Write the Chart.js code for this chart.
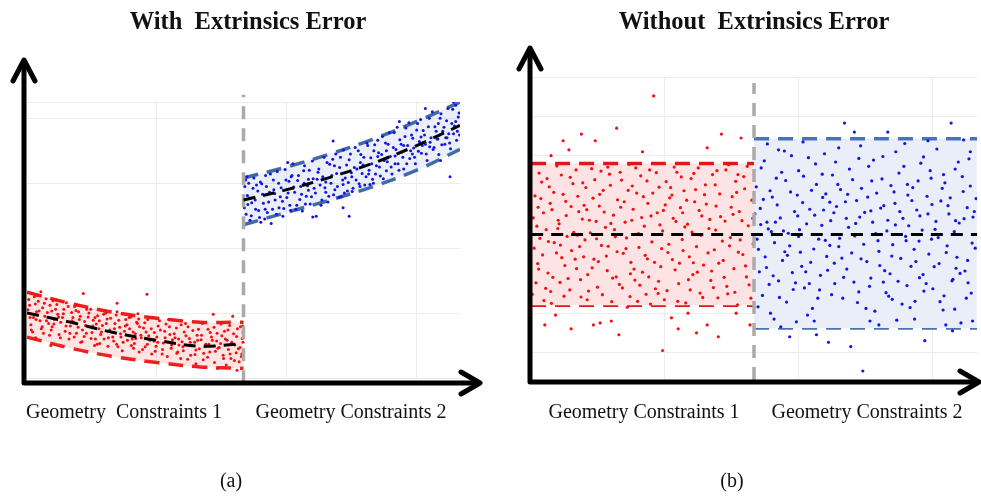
<!DOCTYPE html>
<html>
<head>
<meta charset="utf-8">
<script src="https://cdn.jsdelivr.net/npm/chart.js@4/dist/chart.umd.min.js"></script>
<style>
  body { margin: 0; background: #fff; }
  #wrap { position: relative; width: 981px; height: 497px; overflow: hidden; font-family: "Liberation Serif", "Times New Roman", serif; }
  canvas { position: absolute; top: 0; }
  .t { position: absolute; white-space: pre; color: #111; transform: translateX(-50%); }
  .title { font-weight: bold; font-size: 24.5px; top: 7px; }
  .lab { font-size: 20px; top: 400px; }
  .cap { font-size: 20px; top: 469px; }
</style>
</head>
<body>
<div id="wrap">
  <canvas id="chartA" width="490" height="497" style="left:0"></canvas>
  <canvas id="chartB" width="491" height="497" style="left:490px"></canvas>
  <div class="t title" style="left:248px">With  Extrinsics Error</div>
  <div class="t title" style="left:754px">Without  Extrinsics Error</div>
  <div class="t lab" style="left:124px">Geometry  Constraints 1</div>
  <div class="t lab" style="left:351px">Geometry Constraints 2</div>
  <div class="t lab" style="left:644px">Geometry Constraints 1</div>
  <div class="t lab" style="left:867px">Geometry Constraints 2</div>
  <div class="t cap" style="left:231px">(a)</div>
  <div class="t cap" style="left:732px">(b)</div>
</div>
<script>
// ---- (a) with extrinsics error: drifting estimates ----
var bandXA1 = [0, 1, 2, 3, 4, 5];
var centerA1 = [1.0, 0.86, 0.70, 0.58, 0.49, 0.53];
var upperA1 = [1.32, 1.15, 1.01, 0.92, 0.86, 0.86];
var lowerA1 = [0.63, 0.46, 0.33, 0.24, 0.17, 0.15];

var bandXA2 = [5, 6, 7, 8, 9, 10];
var centerA2 = [2.74, 2.90, 3.09, 3.31, 3.58, 3.89];
var upperA2 = [3.08, 3.25, 3.45, 3.68, 3.95, 4.25];
var lowerA2 = [2.36, 2.55, 2.74, 2.95, 3.20, 3.52];

var redA = [
  [0.04,1.21],[0.09,0.82],[0.02,1.05],[0.12,1.30],[0.15,0.93],[0.19,1.14],[0.13,0.71],[0.22,1.02],
  [0.26,1.18],[0.30,0.88],[0.24,1.27],[0.33,0.76],[0.36,1.08],[0.41,0.95],[0.38,0.69],[0.44,1.22],
  [0.50,0.84],[0.53,1.12],[0.47,1.01],[0.56,0.74],[0.60,1.19],[0.63,0.90],[0.58,0.79],[0.66,1.06],
  [0.71,0.98],[0.74,0.67],[0.69,1.13],[0.78,0.86],[0.85,1.06],[0.88,0.72],[0.82,0.93],[0.91,1.16],
  [1.00,0.80],[1.03,1.01],[0.97,0.60],[1.06,0.93],[1.10,1.10],[1.14,0.69],[1.08,0.86],[1.17,1.12],
  [1.21,0.90],[1.24,0.55],[1.19,1.02],[1.28,0.74],[1.35,0.81],[1.38,1.06],[1.32,0.64],[1.41,0.94],
  [1.50,0.70],[1.53,0.89],[1.47,1.06],[1.56,0.50],[1.60,0.83],[1.63,0.96],[1.58,0.60],[1.66,0.76],
  [1.70,0.67],[1.74,0.81],[1.68,0.53],[1.77,0.98],[1.85,0.91],[1.88,0.62],[1.82,1.00],[1.91,0.74],
  [2.00,0.57],[2.03,0.84],[1.97,0.70],[2.06,0.97],[2.10,0.48],[2.14,0.78],[2.08,1.02],[2.17,0.63],
  [2.25,0.72],[2.28,0.90],[2.22,0.55],[2.31,0.82],[2.40,0.94],[2.43,0.60],[2.37,0.76],[2.46,0.46],
  [2.50,0.68],[2.53,0.86],[2.48,0.53],[2.56,0.99],[2.60,0.79],[2.64,0.62],[2.58,0.91],[2.67,0.44],
  [2.75,0.71],[2.78,0.52],[2.72,0.85],[2.81,0.65],[2.90,0.93],[2.93,0.57],[2.87,0.76],[2.96,0.41],
  [3.00,0.63],[3.03,0.80],[2.98,0.49],[3.06,0.88],[3.15,0.54],[3.18,0.72],[3.12,0.37],[3.21,0.83],
  [3.30,0.67],[3.33,0.46],[3.27,0.90],[3.36,0.59],[3.45,0.77],[3.48,0.40],[3.42,0.62],[3.51,0.51],
  [3.60,0.48],[3.63,0.71],[3.58,0.56],[3.66,0.84],[3.75,0.61],[3.78,0.35],[3.72,0.79],[3.81,0.50],
  [3.90,0.43],[3.93,0.66],[3.87,0.55],[3.96,0.75],[4.05,0.84],[4.08,0.38],[4.02,0.59],[4.11,0.48],
  [4.20,0.52],[4.23,0.70],[4.17,0.32],[4.26,0.63],[4.35,0.41],[4.38,0.57],[4.32,0.78],[4.41,0.46],
  [4.50,0.65],[4.53,0.35],[4.47,0.53],[4.56,0.72],[4.65,0.44],[4.68,0.81],[4.62,0.58],[4.71,0.30],
  [4.80,0.51],[4.83,0.39],[4.77,0.68],[4.86,0.76],[4.95,0.33],[4.97,0.61],[4.92,0.47],[4.99,0.55],
  [2.08,1.15],[2.77,1.29],[0.55,0.50],[3.90,0.22],[4.85,0.12],[1.30,1.30],[0.20,0.62],[4.60,0.20],
  [4.90,0.25],[4.40,0.15],[3.55,0.30],[4.98,0.80],[4.75,0.95],[4.30,0.98],[0.07,0.93],[0.32,1.33],
  [0.06,1.12],[0.10,0.74],[0.17,1.25],[0.21,0.90],[0.28,1.03],[0.35,0.79],[0.40,1.15],[0.45,0.88],
  [0.52,0.66],[0.57,1.03],[0.62,0.83],[0.67,1.20],[0.73,0.94],[0.77,0.62],[0.84,0.99],[0.90,0.80],
  [0.95,1.10],[0.99,0.69],[1.04,0.88],[1.09,0.63],[1.13,1.04],[1.18,0.78],[1.23,0.95],[1.27,0.56],
  [1.33,0.87],[1.37,0.69],[1.43,1.00],[1.48,0.61],[1.52,0.80],[1.57,0.93],[1.62,0.52],[1.67,0.88],
  [1.72,0.71],[1.78,0.60],[1.83,0.84],[1.87,0.49],[1.93,0.92],[1.98,0.63],[2.02,0.76],[2.07,0.52],
  [2.12,0.89],[2.16,0.68],[2.20,0.42],[2.27,0.80],[2.32,0.58],[2.36,0.93],[2.41,0.50],[2.45,0.71],
  [2.51,0.61],[2.55,0.84],[2.59,0.40],[2.63,0.66],[2.69,0.77],[2.73,0.48],[2.79,0.90],[2.84,0.58],
  [2.88,0.37],[2.94,0.70],[3.02,0.55],[3.08,0.74],[3.13,0.44],[3.19,0.62],[3.24,0.33],[3.29,0.79],
  [3.34,0.51],[3.40,0.68],[3.46,0.38],[3.50,0.60],[3.56,0.82],[3.61,0.42],[3.67,0.65],[3.71,0.29],
  [3.77,0.55],[3.83,0.73],[3.88,0.36],[3.94,0.58],[3.98,0.45],[4.03,0.66],[4.07,0.28],[4.13,0.52],
  [4.18,0.75],[4.22,0.40],[4.28,0.58],[4.33,0.24],[4.39,0.69],[4.44,0.47],[4.48,0.83],[4.54,0.30],
  [4.58,0.60],[4.64,0.74],[4.69,0.37],[4.73,0.55],[4.79,0.27],[4.84,0.64],[4.88,0.45],[4.93,0.79],
  [4.96,0.37],[4.99,0.70]
];

var blueA = [
  [5.03,2.95],[5.06,2.52],[5.09,2.81],[5.12,3.00],[5.15,2.43],[5.19,2.70],[5.24,3.08],[5.28,2.60],
  [5.33,2.88],[5.37,2.47],[5.42,2.99],[5.46,2.69],[5.51,3.12],[5.55,2.55],[5.60,2.86],[5.64,2.38],
  [5.69,3.05],[5.73,2.74],[5.78,3.18],[5.82,2.62],[5.87,2.93],[5.91,2.49],[5.96,3.21],[6.00,2.78],
  [6.05,3.03],[6.09,2.58],[6.14,3.30],[6.18,2.86],[6.23,2.66],[6.27,3.12],[6.32,2.95],[6.36,2.57],
  [6.41,3.27],[6.45,2.80],[6.50,3.06],[6.54,2.68],[6.59,3.34],[6.63,2.92],[6.68,2.49],[6.72,3.17],
  [6.77,2.97],[6.81,2.74],[6.86,3.40],[6.90,3.02],[6.95,2.71],[6.99,3.29],[7.04,3.12],[7.08,2.82],
  [7.13,3.45],[7.17,2.95],[7.22,3.24],[7.26,2.79],[7.31,3.51],[7.35,3.08],[7.40,2.88],[7.44,3.36],
  [7.49,3.16],[7.53,2.92],[7.58,3.55],[7.62,3.22],[7.67,2.99],[7.71,3.44],[7.76,3.28],[7.80,2.97],
  [7.85,3.62],[7.89,3.14],[7.94,3.39],[7.98,3.06],[8.03,3.59],[8.07,3.27],[8.12,3.47],[8.16,3.11],
  [8.21,3.72],[8.25,3.35],[8.30,3.19],[8.34,3.60],[8.39,3.41],[8.43,3.14],[8.48,3.78],[8.52,3.52],
  [8.57,3.30],[8.61,3.67],[8.66,3.48],[8.70,3.22],[8.75,3.85],[8.79,3.58],[8.84,3.38],[8.88,3.74],
  [8.93,3.54],[8.97,3.30],[9.02,3.92],[9.06,3.64],[9.11,3.46],[9.15,3.81],[9.20,3.60],[9.24,3.35],
  [9.29,4.00],[9.33,3.70],[9.38,3.52],[9.42,3.87],[9.47,3.68],[9.51,3.44],[9.56,4.07],[9.60,3.80],
  [9.65,3.60],[9.69,3.96],[9.74,3.76],[9.78,3.53],[9.83,4.14],[9.87,3.88],[9.92,3.66],[9.96,4.02],
  [9.99,3.74],[5.10,2.67],[5.30,2.97],[5.50,2.60],[5.70,2.90],[5.90,2.72],[6.10,3.10],[6.30,2.75],
  [6.50,2.89],[6.70,3.06],[6.90,2.86],[7.10,3.27],[7.30,2.98],[7.50,3.10],[7.70,3.32],[7.90,3.20],
  [8.10,3.41],[8.30,3.50],[8.50,3.30],[8.70,3.58],[8.90,3.45],[9.10,3.71],[9.30,3.56],[9.50,3.92],
  [9.70,3.70],[9.90,3.95],[7.07,3.65],[9.77,3.10],[7.44,2.49],[6.60,2.48],[7.30,2.62],[5.05,3.05],
  [6.02,3.32],[8.60,3.95],[9.20,4.15],[9.85,4.25],[8.00,3.00],[9.55,3.35],[5.40,2.40],[6.40,3.00],
  [5.02,2.62],[5.08,3.10],[5.13,2.77],[5.18,2.50],[5.22,2.92],[5.27,2.74],[5.35,2.58],[5.39,3.02],
  [5.44,2.83],[5.49,2.45],[5.53,2.95],[5.58,2.71],[5.62,3.14],[5.67,2.60],[5.72,2.84],[5.76,2.52],
  [5.81,3.00],[5.85,2.79],[5.93,2.61],[5.98,3.05],[6.03,2.85],[6.07,2.66],[6.12,3.12],[6.16,2.94],
  [6.21,2.60],[6.25,3.04],[6.34,2.83],[6.39,3.19],[6.43,2.68],[6.48,2.96],[6.52,3.20],[6.57,2.79],
  [6.61,3.07],[6.66,2.85],[6.74,3.22],[6.79,2.66],[6.83,3.10],[6.88,2.93],[6.93,3.32],[6.97,2.80],
  [7.02,3.00],[7.06,3.37],[7.11,2.90],[7.15,3.15],[7.20,2.78],[7.24,3.40],[7.29,3.05],[7.33,2.85],
  [7.38,3.28],[7.42,3.01],[7.47,3.45],[7.51,2.87],[7.56,3.24],[7.60,3.05],[7.65,3.50],[7.69,2.95],
  [7.74,3.15],[7.78,3.40],[7.83,3.10],[7.87,3.58],[7.92,2.98],[7.96,3.30],[8.01,3.50],[8.05,3.14],
  [8.10,3.66],[8.14,3.25],[8.19,3.44],[8.23,3.07],[8.28,3.62],[8.32,3.33],[8.37,3.78],[8.41,3.25],
  [8.46,3.55],[8.50,3.42],[8.55,3.86],[8.59,3.20],[8.64,3.60],[8.68,3.40],[8.73,3.72],[8.77,3.30],
  [8.82,3.93],[8.86,3.50],[8.91,3.69],[8.95,3.40],[9.00,3.82],[9.04,3.49],[9.09,3.98],[9.13,3.58],
  [9.18,3.74],[9.22,3.45],[9.27,3.87],[9.31,3.63],[9.36,4.10],[9.40,3.55],[9.45,3.80],[9.49,3.68],
  [9.54,4.00],[9.58,3.59],[9.63,3.86],[9.67,3.70],[9.72,4.15],[9.76,3.62],[9.81,3.92],[9.85,3.76],
  [9.90,4.20],[9.94,3.80],[9.98,4.08]
];

// ---- (b) without extrinsics error: stable estimates ----
var bandXB1 = [0, 5];
var upperB1 = [1.8, 1.8];
var lowerB1 = [-1.8, -1.8];
var bandXB2 = [5, 10];
var upperB2 = [2.43, 2.43];
var lowerB2 = [-2.38, -2.38];
var centerXB = [0, 10];
var centerB = [0, 0];

var redB = [
  [0.05,0.42],[0.11,-1.23],[0.18,1.56],[0.07,-0.35],[0.22,0.91],[0.29,-1.68],[0.34,0.12],[0.15,-0.74],
  [0.41,1.21],[0.38,-0.98],[0.47,0.63],[0.52,-0.21],[0.58,1.74],[0.44,-1.45],[0.63,0.27],[0.69,-0.59],
  [0.72,1.02],[0.55,-2.05],[0.78,0.84],[0.83,-1.12],[0.88,1.45],[0.91,-0.41],[0.96,0.05],[0.85,2.15],
  [1.02,-0.87],[1.07,0.58],[1.12,-1.59],[1.16,1.31],[1.21,-0.14],[1.05,0.97],[1.27,-1.02],[1.31,0.36],
  [1.36,1.67],[1.41,-0.63],[1.44,2.38],[1.49,-1.34],[1.53,0.72],[1.58,-0.28],[1.62,1.12],[1.55,-2.25],
  [1.67,0.18],[1.71,-0.92],[1.76,1.53],[1.81,-1.71],[1.85,0.49],[1.89,-0.06],[1.94,0.88],[1.98,-1.27],
  [2.03,1.38],[2.07,-0.48],[2.11,0.31],[2.16,-1.85],[2.20,1.78],[2.24,-0.71],[2.29,0.64],[2.33,-1.16],
  [2.37,1.05],[2.42,-0.33],[2.46,1.49],[2.50,-0.96],[2.54,0.21],[2.58,-1.52],[2.62,0.79],[2.66,1.64],
  [2.71,-0.19],[2.75,3.52],[2.79,-1.38],[2.83,0.55],[2.87,1.20],[2.91,-0.82],[2.95,0.09],[2.99,-1.66],
  [3.03,1.34],[3.07,-0.46],[3.11,0.93],[3.15,-2.12],[3.19,0.41],[3.23,-0.90],[3.27,1.58],[3.31,-1.25],
  [3.35,0.68],[3.39,-0.13],[3.43,1.11],[3.47,-1.74],[3.51,0.26],[3.55,-0.57],[3.59,1.42],[3.63,-1.02],
  [3.67,0.83],[3.71,-0.31],[3.75,1.69],[3.79,-1.49],[3.83,0.47],[3.87,-0.78],[3.91,1.26],[3.95,-2.30],
  [3.99,0.15],[4.03,-1.17],[4.07,1.52],[4.11,-0.39],[4.15,0.72],[4.19,-1.61],[4.23,1.03],[4.27,2.55],
  [4.31,-0.66],[4.35,0.34],[4.39,-1.32],[4.43,1.77],[4.47,-0.08],[4.51,0.96],[4.55,-0.87],[4.59,1.35],
  [4.63,-1.79],[4.67,0.58],[4.71,2.45],[4.75,-0.51],[4.79,1.16],[4.83,-1.08],[4.87,0.22],[4.91,-2.30],
  [4.95,0.87],[4.98,-0.24],[0.09,0.98],[0.26,-0.52],[0.36,1.42],[0.49,-1.09],[0.61,0.36],[0.74,-1.57],
  [0.81,-0.05],[0.94,1.29],[1.09,-0.31],[1.19,0.74],[1.29,-1.44],[1.39,0.92],[1.47,-0.11],[1.57,1.61],
  [1.69,-0.55],[1.79,0.28],[1.91,-1.08],[2.01,0.69],[2.13,-0.36],[2.27,1.23],[2.39,-1.70],[2.48,0.43],
  [2.61,-0.62],[2.73,1.05],[2.86,-1.19],[2.97,0.61],[3.09,-0.25],[3.21,1.71],[3.33,-0.73],[3.45,0.19],
  [3.57,-1.41],[3.69,1.14],[3.81,-0.02],[3.93,0.77],[4.05,-0.93],[4.17,1.62],[4.29,-0.17],[4.41,-1.51],
  [4.53,0.51],[4.65,-0.45],[4.77,1.47],[4.89,-1.28],[0.31,-2.30],[1.97,-2.55],[3.52,-2.00],[0.72,2.38],
  [1.13,2.55],[1.40,-2.30],[3.71,-2.50],[2.95,-2.95],[0.08,1.80],[1.92,2.70],[0.20,-0.10],[3.40,0.55],
  [0.03,-1.52],[0.13,0.21],[0.17,-0.88],[0.24,1.33],[0.28,0.55],[0.33,-1.37],[0.39,-0.18],[0.43,0.79],
  [0.46,-1.75],[0.51,1.07],[0.57,-0.47],[0.60,0.15],[0.65,-1.22],[0.68,1.51],[0.76,-0.79],[0.79,0.48],
  [0.87,-1.41],[0.90,0.71],[0.99,-0.63],[1.01,1.64],[1.04,-0.02],[1.11,-1.15],[1.15,0.39],[1.18,-0.57],
  [1.23,1.19],[1.26,-1.66],[1.33,0.04],[1.37,-0.85],[1.43,1.39],[1.46,0.33],[1.51,-0.69],[1.54,1.02],
  [1.60,-1.53],[1.64,0.57],[1.73,-0.30],[1.78,1.25],[1.83,-1.11],[1.87,0.12],[1.93,-0.44],[2.00,1.58],
  [2.05,-1.36],[2.09,0.83],[2.14,-0.09],[2.18,1.12],[2.22,-1.58],[2.26,0.36],[2.31,-0.88],[2.35,1.69],
  [2.41,0.02],[2.44,-1.29],[2.52,0.96],[2.56,-0.53],[2.60,1.36],[2.64,-1.08],[2.69,0.47],[2.77,-0.71],
  [2.81,1.57],[2.85,-1.50],[2.89,0.24],[2.93,-0.36],[3.01,0.75],[3.05,-1.43],[3.13,1.19],[3.17,-0.64],
  [3.25,0.33],[3.29,-1.70],[3.37,1.46],[3.41,-0.41],[3.49,0.87],[3.53,-1.15],[3.61,0.06],[3.65,1.55],
  [3.73,-0.96],[3.77,0.61],[3.85,-1.60],[3.89,1.01],[3.97,-0.47],[4.01,0.38],[4.09,-1.35],[4.13,1.26],
  [4.21,-0.73],[4.25,0.45],[4.33,-1.09],[4.37,1.64],[4.45,-0.29],[4.49,0.69],[4.57,-1.47],[4.61,1.07],
  [4.69,-0.14],[4.73,0.35],[4.81,-0.80],[4.85,1.73],[4.93,-1.62],[4.97,0.41],[0.16,0.69],[0.66,-0.27],
  [1.25,0.63],[1.72,1.71],[2.23,-1.00],[2.68,-1.77],[3.16,1.00],[3.64,-0.72],[4.14,0.11],[4.64,1.52],
  [0.45,2.00],[1.80,-2.20],[2.50,2.10],[3.30,-2.40],[4.20,-2.60],[4.60,-2.00],[0.90,-2.40],[3.95,2.20]
];

var blueB = [
  [5.05,1.21],[5.10,-0.38],[5.14,0.66],[5.19,-1.55],[5.23,1.87],[5.28,-0.84],[5.32,0.14],[5.37,-2.00],
  [5.41,0.95],[5.46,-0.21],[5.50,1.43],[5.55,-1.18],[5.59,0.42],[5.64,-0.66],[5.68,2.12],[5.73,-1.72],
  [5.77,0.03],[5.82,1.08],[5.86,-0.97],[5.91,0.58],[5.95,-2.22],[6.00,1.62],[6.04,-0.45],[6.09,0.81],
  [6.13,-1.36],[6.18,0.27],[6.22,1.95],[6.27,-0.71],[6.31,-1.88],[6.36,0.49],[6.40,1.27],[6.45,-0.12],
  [6.49,-1.04],[6.54,0.94],[6.58,2.05],[6.63,-0.56],[6.67,-2.74],[6.72,0.35],[6.76,1.51],[6.81,-1.25],
  [6.85,0.71],[6.90,-0.31],[6.94,1.14],[6.99,-1.62],[7.03,2.83],[7.08,-0.88],[7.12,0.18],[7.17,-2.85],
  [7.21,1.39],[7.26,-0.04],[7.30,0.86],[7.35,-1.46],[7.39,2.25],[7.44,-3.47],[7.48,0.56],[7.53,-0.69],
  [7.57,1.73],[7.62,-1.11],[7.66,0.31],[7.71,-1.95],[7.75,1.05],[7.80,-0.43],[7.84,0.67],[7.89,1.98],
  [7.93,-0.92],[7.98,0.09],[8.02,-1.57],[8.07,1.24],[8.11,-0.26],[8.16,0.79],[8.20,-2.18],[8.25,1.56],
  [8.29,-0.61],[8.34,0.41],[8.38,2.31],[8.43,-1.30],[8.47,0.22],[8.52,-0.81],[8.56,1.19],[8.61,-1.70],
  [8.65,0.62],[8.70,-0.17],[8.74,1.81],[8.79,-1.02],[8.83,-2.70],[8.88,0.97],[8.92,-0.50],[8.97,1.43],
  [9.01,-1.38],[9.06,0.13],[9.10,2.17],[9.15,-0.74],[9.19,0.85],[9.24,-1.92],[9.28,1.31],[9.33,-0.29],
  [9.37,0.52],[9.42,2.83],[9.46,-1.14],[9.51,1.66],[9.55,-0.58],[9.60,0.29],[9.64,-2.25],[9.69,1.09],
  [9.73,-0.93],[9.78,0.68],[9.82,1.92],[9.87,-1.49],[9.91,0.44],[9.96,-0.35],[5.07,-0.12],[5.21,0.89],
  [5.34,-1.27],[5.48,0.31],[5.62,1.58],[5.75,-0.53],[5.88,-1.40],[6.02,0.12],[6.16,-0.95],[6.29,1.12],
  [6.43,-1.62],[6.56,0.62],[6.70,-0.28],[6.83,1.84],[6.97,-0.60],[7.10,1.02],[7.24,-1.21],[7.37,0.44],
  [7.51,-1.88],[7.64,1.36],[7.78,-0.16],[7.91,0.73],[8.05,-1.00],[8.18,2.10],[8.32,-1.77],[8.45,1.00],
  [8.59,-0.38],[8.72,0.47],[8.86,-1.25],[8.99,0.76],[9.13,-0.08],[9.26,-1.56],[9.40,0.93],[9.53,-0.86],
  [9.67,1.47],[9.80,-1.23],[9.94,0.58],[5.30,2.30],[6.10,2.35],[8.90,2.38],[9.70,2.40],[5.60,-2.35],
  [7.80,-2.30],[9.30,-2.30],[6.40,-2.55],[8.00,2.60],[9.90,-2.20],[5.15,0.25],[6.60,-0.15],[8.40,-0.05],
  [5.02,0.52],[5.09,-1.84],[5.16,1.69],[5.25,-0.57],[5.29,0.31],[5.36,1.11],[5.43,-1.05],[5.52,0.75],
  [5.57,-1.60],[5.66,0.09],[5.71,1.37],[5.80,-0.29],[5.84,2.00],[5.93,-1.23],[5.98,0.47],[6.07,-0.81],
  [6.11,1.48],[6.20,-2.05],[6.25,0.64],[6.34,-0.37],[6.38,1.79],[6.47,-1.41],[6.52,0.23],[6.61,1.03],
  [6.65,-0.91],[6.74,-1.53],[6.79,0.55],[6.88,1.27],[6.92,-0.10],[7.01,-1.09],[7.05,0.83],[7.14,1.66],
  [7.19,-0.47],[7.28,0.28],[7.32,-1.73],[7.41,1.17],[7.46,-0.25],[7.55,0.95],[7.59,-1.32],[7.68,1.89],
  [7.73,0.02],[7.82,-0.79],[7.87,1.41],[7.96,-1.48],[8.00,0.36],[8.09,-0.55],[8.14,1.08],[8.23,-1.19],
  [8.27,0.58],[8.36,1.73],[8.41,-0.16],[8.50,-1.86],[8.54,0.86],[8.63,-0.69],[8.68,1.36],[8.77,0.11],
  [8.81,-1.44],[8.90,0.52],[8.95,1.62],[9.04,-0.82],[9.08,0.33],[9.17,-1.71],[9.22,1.17],[9.31,-0.46],
  [9.35,0.73],[9.44,-1.18],[9.49,0.07],[9.58,1.84],[9.62,-0.99],[9.71,0.40],[9.76,-1.62],[9.85,1.23],
  [9.89,-0.22],[9.98,0.91],[5.12,-0.95],[5.39,0.07],[5.69,-0.44],[5.97,1.00],[6.24,-1.25],[6.53,1.53],
  [6.80,-0.73],[7.07,0.41],[7.35,1.93],[7.62,0.60],[7.90,-1.21],[8.17,0.24],[8.44,1.27],[8.71,-1.10],
  [8.98,-0.12],[9.25,1.52],[9.52,0.35],[9.79,-0.66],[5.55,2.15],[6.90,2.20],[7.60,-2.20],[8.60,-2.15],
  [9.45,-2.45],[9.85,2.10],[5.80,-2.60],[7.25,2.60],[6.00,-0.05],[6.70,0.82],[7.40,-0.62],[8.10,-1.65],
  [8.80,1.97],[9.50,-1.90],[5.45,-2.15],[6.35,-2.20]
];

function pts(xs, ys) {
  return xs.map(function (x, i) { return { x: x, y: ys[i] }; });
}
function pairs(arr) {
  return arr.map(function (p) { return { x: p[0], y: p[1] }; });
}

// thick black axes with open arrow heads
var axisArrows = {
  id: 'axisArrows',
  afterDraw: function (chart, args, o) {
    var ctx = chart.ctx;
    ctx.save();
    ctx.strokeStyle = '#000';
    ctx.lineWidth = 5;
    ctx.lineCap = 'round';
    ctx.lineJoin = 'round';
    ctx.beginPath();
    ctx.moveTo(o.ox, o.yTop + 2);
    ctx.lineTo(o.ox, o.oy);
    ctx.lineTo(o.xRight - 2, o.oy);
    ctx.stroke();
    ctx.beginPath();
    ctx.moveTo(o.ox - 11, o.yTop + 21);
    ctx.lineTo(o.ox, o.yTop);
    ctx.lineTo(o.ox + 11, o.yTop + 21);
    ctx.moveTo(o.xRight - 19, o.oy - 11);
    ctx.lineTo(o.xRight, o.oy);
    ctx.lineTo(o.xRight - 19, o.oy + 11);
    ctx.stroke();
    ctx.restore();
  }
};

function fixedTicks(vals) {
  return function (scale) {
    scale.ticks = vals.map(function (v) { return { value: v }; });
  };
}

function band(xs, ys, color, fillTo, fillColor) {
  return {
    type: 'line', data: pts(xs, ys), showLine: true, pointRadius: 0,
    borderColor: color, borderWidth: 3.5, borderDash: [15, 9],
    fill: fillTo, backgroundColor: fillColor, tension: 0.35, order: 3
  };
}

function center(xs, ys) {
  return {
    type: 'line', data: pts(xs, ys), showLine: true, pointRadius: 0,
    borderColor: '#000', borderWidth: 3, borderDash: [12, 8], fill: false, tension: 0.35, order: 0
  };
}

function divider(y0, y1) {
  return {
    type: 'line', data: pts([5, 5], [y0, y1]), showLine: true, pointRadius: 0,
    borderColor: '#aaa', borderWidth: 3.5, borderDash: [13, 9], fill: false, clip: false, order: 1
  };
}

function dots(arr, color, r) {
  return { type: 'scatter', data: pairs(arr), pointRadius: r, pointBorderWidth: 0,
    backgroundColor: color, borderColor: color, order: 2 };
}

function baseOptions(xTicks, yTicks, yMin, yMax, pad, arrows) {
  return {
    responsive: false,
    animation: false,
    layout: { padding: pad },
    plugins: { legend: { display: false }, tooltip: { enabled: false }, axisArrows: arrows },
    scales: {
      x: {
        type: 'linear', min: 0, max: 10,
        afterBuildTicks: fixedTicks(xTicks),
        ticks: { display: false },
        grid: { color: '#ececec', drawTicks: false },
        border: { display: false }
      },
      y: {
        type: 'linear', min: yMin, max: yMax,
        afterBuildTicks: fixedTicks(yTicks),
        ticks: { display: false },
        grid: { color: '#ececec', drawTicks: false },
        border: { display: false }
      }
    }
  };
}

new Chart(document.getElementById('chartA'), {
  type: 'scatter',
  data: {
    datasets: [
      center(bandXA1, centerA1),
      center(bandXA2, centerA2),
      divider(-0.08, 4.36),
      dots(redA, '#f01010', 1.5),
      dots(blueA, '#1414e0', 1.5),
      band(bandXA1, upperA1, '#ee1c1c', '+1', 'rgba(255,90,90,0.16)'),
      band(bandXA1, lowerA1, '#ee1c1c', false, 'transparent'),
      band(bandXA2, upperA2, '#3f6aa6', '+1', 'rgba(90,130,210,0.13)'),
      band(bandXA2, lowerA2, '#3f6aa6', false, 'transparent')
    ]
  },
  options: baseOptions([3, 6, 9], [0, 1, 2, 3, 4, 4.25], 0, 4.25,
    { left: 27, right: 30, top: 102, bottom: 119 },
    { ox: 24, oy: 383, yTop: 60, xRight: 480 }),
  plugins: [axisArrows]
});

new Chart(document.getElementById('chartB'), {
  type: 'scatter',
  data: {
    datasets: [
      center(centerXB, centerB),
      divider(-3.7, 3.85),
      dots(redB, '#f01010', 1.6),
      dots(blueB, '#1414e0', 1.6),
      band(bandXB1, upperB1, '#e01818', '+1', '#fde3e3'),
      band(bandXB1, lowerB1, '#e01818', false, 'transparent'),
      band(bandXB2, upperB2, '#4a72b8', '+1', '#e9eef8'),
      band(bandXB2, lowerB2, '#4a72b8', false, 'transparent')
    ]
  },
  options: baseOptions([3, 6, 9], [-3, -2, -1, 0, 1, 2, 3, 4], -3.75, 4,
    { left: 41, right: 0, top: 77, bottom: 115 },
    { ox: 40, oy: 382, yTop: 48, xRight: 489 }),
  plugins: [axisArrows]
});
</script>
</body>
</html>
